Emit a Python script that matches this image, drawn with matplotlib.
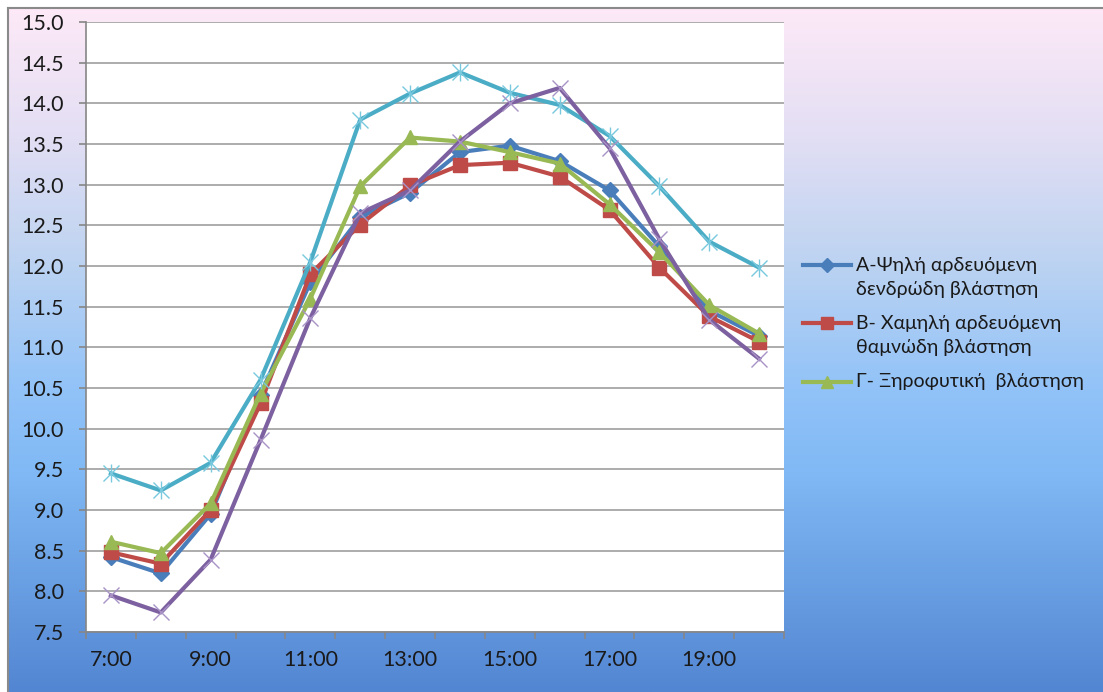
import numpy as np
import matplotlib
matplotlib.use("Agg")
from matplotlib import pyplot as plt
from matplotlib.colors import LinearSegmentedColormap
from matplotlib.lines import Line2D

plt.rcParams['font.family'] = ['Lato', 'Open Sans', 'DejaVu Sans']

hours = ["7:00", "8:00", "9:00", "10:00", "11:00", "12:00", "13:00",
         "14:00", "15:00", "16:00", "17:00", "18:00", "19:00", "20:00"]

zone_a = [8.42, 8.22, 8.95, 10.42, 11.80, 12.60, 12.90, 13.40, 13.48, 13.29, 12.93, 12.24, 11.45, 11.14]
zone_b = [8.48, 8.34, 9.00, 10.31, 11.90, 12.51, 12.99, 13.24, 13.27, 13.10, 12.69, 11.98, 11.38, 11.07]
zone_c = [8.61, 8.47, 9.08, 10.43, 11.60, 12.98, 13.58, 13.53, 13.40, 13.26, 12.76, 12.17, 11.52, 11.17]
zone_d = [9.45, 9.24, 9.58, 10.60, 12.05, 13.80, 14.12, 14.38, 14.13, 13.98, 13.60, 12.98, 12.30, 11.98]
zone_e = [7.95, 7.74, 8.39, 9.86, 11.36, 12.65, 12.93, 13.53, 14.00, 14.19, 13.45, 12.33, 11.34, 10.86]

legend_labels = [["Α-Ψηλή αρδευόμενη", "δενδρώδη βλάστηση"],
                 ["Β- Χαμηλή αρδευόμενη", "θαμνώδη βλάστηση"],
                 ["Γ- Ξηροφυτική  βλάστηση"]]

W, H = 1103, 692
fig = plt.figure(figsize=(W / 100, H / 100), dpi=100)
fig.patch.set_facecolor("white")

# gradient backdrop for the chart area
bg = fig.add_axes([8 / W, 0, 1 - 8 / W, 1 - 8 / H], zorder=0)
grad = LinearSegmentedColormap.from_list("bg", [
    (0.00, "#fde9f7"), (0.18, "#e4dff4"), (0.36, "#bfd4f1"),
    (0.55, "#93c3f8"), (0.68, "#80b9f5"), (1.00, "#5386d2")])
bg.imshow(np.linspace(0, 1, 256).reshape(-1, 1), aspect="auto", cmap=grad,
          extent=[0, 1, 0, 1], origin="upper")
bg.set_xlim(0, 1)
bg.set_ylim(0, 1)
bg.set_xticks([])
bg.set_yticks([])
for side in ("right", "bottom"):
    bg.spines[side].set_visible(False)
for side in ("top", "left"):
    bg.spines[side].set_color("#8a8a8a")
    bg.spines[side].set_linewidth(1.5)

ax = fig.add_axes([86 / W, 60 / H, 698 / W, 610 / H], zorder=1)
ax.set_facecolor("white")
x = np.arange(len(hours))

lw = 3.0
styles = [
    dict(color="#4a7ebb", marker="D", ms=8),
    dict(color="#be4b48", marker="s", ms=10),
    dict(color="#98b954", marker="^", ms=10),
]
for vals, st, z in zip([zone_a, zone_b, zone_c], styles, [3, 4, 5]):
    ax.plot(x, vals, lw=lw, zorder=z, **st)

ax.plot(x, zone_d, color="#4bacc6", lw=lw, zorder=6)
ax.plot(x, zone_d, ls="none", marker="x", ms=11, mew=1.0, color="#78c8de", zorder=6)
ax.plot(x, zone_d, ls="none", marker="|", ms=13, mew=1.0, color="#78c8de", zorder=6)

ax.plot(x, zone_e, color="#7d60a0", lw=lw, zorder=7)
ax.plot(x, zone_e, ls="none", marker="x", ms=11, mew=1.0, color="#a892c6", zorder=7)

ax.set_xlim(-0.5, len(hours) - 0.5)
ax.set_ylim(7.5, 15.0)
yt = np.arange(7.5, 15.01, 0.5)
ax.set_yticks(yt)
ax.set_yticklabels([f"{v:.1f}" for v in yt])
ax.yaxis.grid(True, color="#a6a6a6", lw=1.3)
ax.set_axisbelow(True)

# ticks between categories, labels on every other category
ax.set_xticks(np.arange(-0.5, len(hours), 1.0))
ax.set_xticklabels([])
ax.set_xticks(x, minor=True)
ax.set_xticklabels([h if i % 2 == 0 else "" for i, h in enumerate(hours)], minor=True)
ax.tick_params(axis="x", which="major", length=5, color="#868686", width=1.2)
ax.tick_params(axis="x", which="minor", length=0, pad=13, labelsize=15.5, labelcolor="#1a1a1a")
ax.tick_params(axis="y", length=5, color="#868686", width=1.2, pad=11,
               labelsize=15.5, labelcolor="#1a1a1a")

for side in ("top", "right"):
    ax.spines[side].set_visible(False)
for side in ("left", "bottom"):
    ax.spines[side].set_color("#868686")
    ax.spines[side].set_linewidth(1.2)

# legend: handle level with the first line of each entry
row_y = [265, 323, 382]
for lines, st, y0 in zip(legend_labels, styles, row_y):
    yf = 1 - y0 / H
    fig.add_artist(Line2D([803 / W, 851 / W], [yf, yf], transform=fig.transFigure,
                          color=st["color"], lw=lw, zorder=5))
    fig.add_artist(Line2D([827 / W], [yf], transform=fig.transFigure,
                          color=st["color"], marker=st["marker"], ms=st["ms"] - 1, zorder=6))
    for k, t in enumerate(lines):
        fig.text(856 / W, 1 - (y0 + 25 * k) / H, t, fontsize=14, color="#1a1a1a",
                 va="center", ha="left", zorder=6)

fig.savefig("out.png", dpi=100)
